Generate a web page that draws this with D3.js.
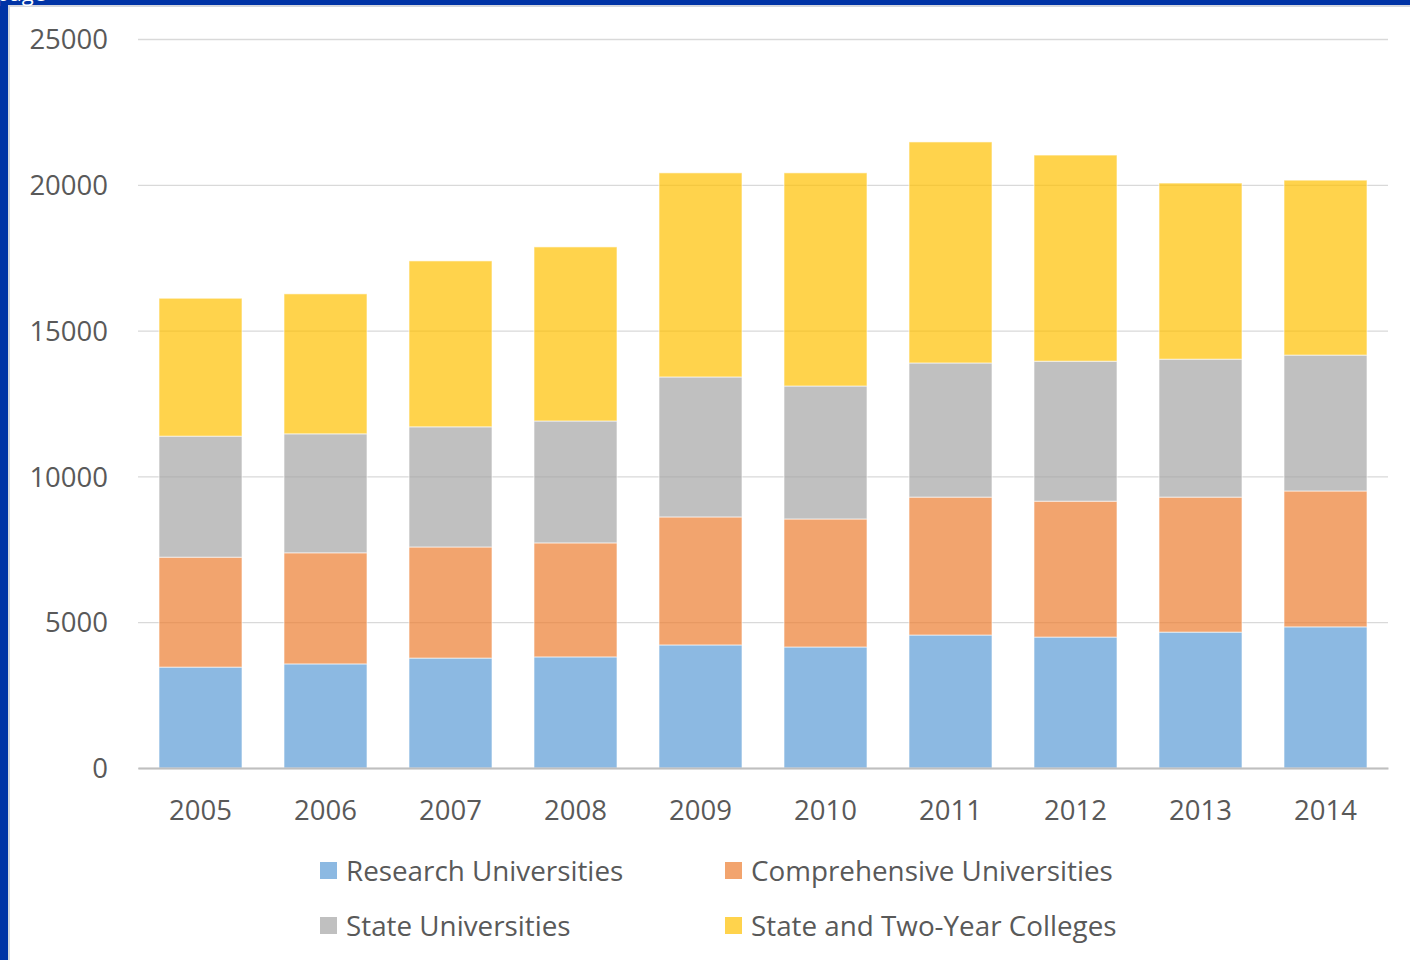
<!DOCTYPE html>
<html>
<head>
<meta charset="utf-8">
<script src="https://cdn.jsdelivr.net/npm/d3@7"></script>
<style>
  html, body { margin: 0; padding: 0; background: #fff; overflow: hidden; }
  text { font-family: "Open Sans", "Noto Sans", sans-serif; fill: #595959; }
</style>
</head>
<body>
<script>
// data
const years = ['2005','2006','2007','2008','2009','2010','2011','2012','2013','2014']
const research = [3460, 3570, 3770, 3810, 4220, 4150, 4560, 4490, 4660, 4840]
const comprehensive = [3770, 3810, 3810, 3910, 4390, 4390, 4730, 4660, 4630, 4660]
const stateUniv = [4150, 4080, 4120, 4180, 4800, 4560, 4600, 4800, 4730, 4660]
const colleges = [4730, 4800, 5690, 5970, 7000, 7310, 7580, 7070, 6040, 6000]
const seriesNames = ['Research Universities', 'Comprehensive Universities', 'State Universities', 'State and Two-Year Colleges']
const seriesColors = ['#5B9BD5', '#ED7D31', '#A5A5A5', '#FFC000']
const yTicks = [0, 5000, 10000, 15000, 20000, 25000]

const dim = {width: 1410, height: 960}
const svg = d3.select('body').append('svg').attr('width', dim.width).attr('height', dim.height)

// slide frame (blue border)
svg.append('rect').attr('x', 0).attr('y', 0).attr('width', dim.width).attr('height', 5).attr('fill', '#0033A6')
svg.append('rect').attr('x', 0).attr('y', 0).attr('width', 8).attr('height', dim.height).attr('fill', '#0033A6')
svg.append('rect').attr('x', 8).attr('y', 5).attr('width', dim.width).attr('height', 2).attr('fill', '#D4D7DE')
svg.append('rect').attr('x', 8).attr('y', 5).attr('width', 2).attr('height', dim.height).attr('fill', '#D4D7DE')
// heading of the slide, cut off by the top edge as in the source
svg.append('text').attr('x', -4).attr('y', 1).attr('font-size', 22).style('fill', '#fff').text('page')

const margin = {top: 39, left: 138, right: 22, bottom: 192}
const graphWidth = dim.width - margin.left - margin.right
const graphHeight = dim.height - margin.top - margin.bottom

const graph = svg.append('g').attr('transform', `translate(${margin.left}, ${margin.top})`)

const scaleX = d3.scaleBand().domain(years).range([0, graphWidth]).paddingInner(0.336).paddingOuter(0.168)
const scaleY = d3.scaleLinear().domain([0, 25000]).range([graphHeight, 0])

// gridlines
const gridY = d3.axisLeft(scaleY).tickValues(yTicks).tickSize(-graphWidth).tickFormat('')
graph.append('g').call(gridY).call(g => {
    g.select('.domain').remove()
    g.selectAll('line').attr('stroke', '#D9D9D9').attr('stroke-width', 1.3)
})

// y labels
const axisY = d3.axisLeft(scaleY).tickValues(yTicks).tickSize(0).tickPadding(30).tickFormat(d3.format('d'))
graph.append('g').call(axisY).call(g => {
    g.select('.domain').remove()
    g.selectAll('text').attr('font-size', 27.5).attr('dy', '0.35em').style('fill', '#595959')
})

// stacked bars
const table = years.map((y, i) => ({year: y, s0: research[i], s1: comprehensive[i], s2: stateUniv[i], s3: colleges[i]}))
const stack = d3.stack().keys(['s0', 's1', 's2', 's3'])(table)

graph.selectAll('g.layer').data(stack).enter().append('g').attr('class', 'layer')
    .attr('fill', (d, i) => seriesColors[i])
    .selectAll('rect').data(d => d).enter().append('rect')
    .attr('x', d => scaleX(d.data.year))
    .attr('y', d => scaleY(d[1]))
    .attr('width', scaleX.bandwidth())
    .attr('height', d => scaleY(d[0]) - scaleY(d[1]))
    .attr('fill-opacity', 0.7)
    .attr('stroke', '#fff')
    .attr('stroke-opacity', 0.6)
    .attr('stroke-width', 1)

// x axis
const axisX = d3.axisBottom(scaleX).tickSize(0).tickPadding(42)
graph.append('g').attr('transform', `translate(0, ${graphHeight})`).call(axisX).call(g => {
    g.select('.domain').attr('stroke', '#BFBFBF').attr('stroke-width', 2)
    g.selectAll('text').attr('font-size', 27.5).attr('dy', '0.35em').style('fill', '#595959')
})

// legend
const legendPos = [[320, 862], [725, 862], [320, 917], [725, 917]]
const legend = svg.append('g')
seriesNames.forEach((name, i) => {
    const [lx, ly] = legendPos[i]
    legend.append('rect').attr('x', lx).attr('y', ly).attr('width', 17).attr('height', 17)
        .attr('fill', seriesColors[i]).attr('fill-opacity', 0.7)
    legend.append('text').attr('x', lx + 26).attr('y', ly + 9).attr('dy', '0.35em')
        .attr('font-size', 27.8).text(name)
})
</script>
</body>
</html>
